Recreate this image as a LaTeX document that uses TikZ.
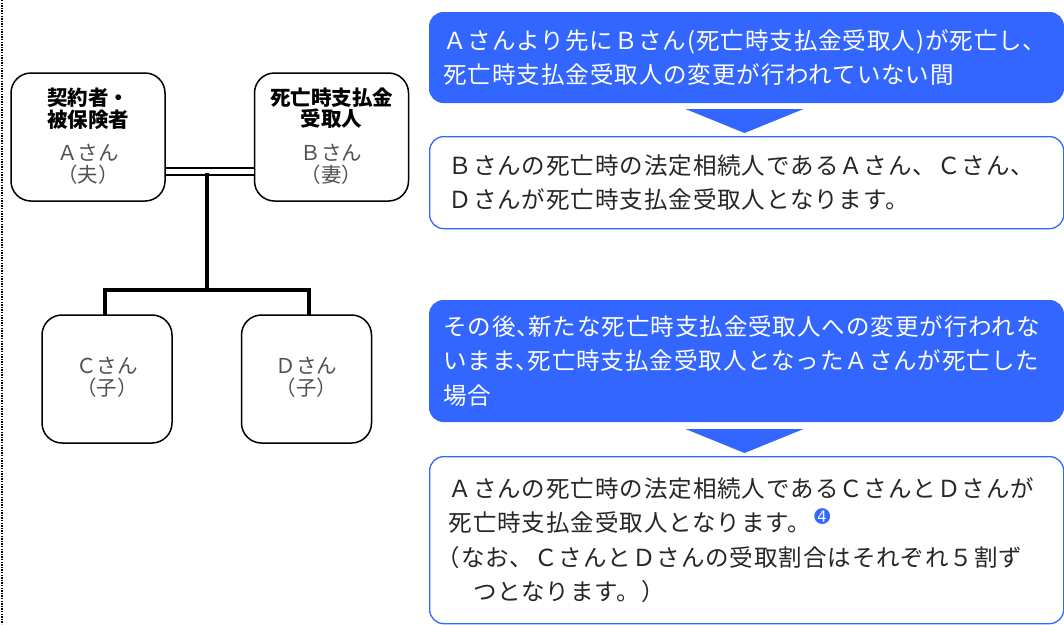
\documentclass[tikz,border=0pt]{standalone}
\usepackage{fontspec}
\usetikzlibrary{calc}
\setmainfont{Noto Sans CJK JP}
\newfontfamily\jpsp{Noto Sans CJK JP}[LetterSpace=4]
\newfontfamily\dingf{DejaVu Sans}
\definecolor{mblue}{RGB}{51,102,255}
\definecolor{tgray}{RGB}{38,38,38}
\definecolor{ngray}{RGB}{80,80,80}
\begin{document}
\begin{tikzpicture}[x=1pt,y=-1pt,
  person/.style={draw=black, line width=1.5pt, rounded corners=20pt, minimum width=154pt, minimum height=128pt, inner sep=0pt},
  kid/.style={person, minimum width=130pt},
  headtxt/.style={font=\fontsize{20.5}{21.5}\selectfont\bfseries, text=black, align=center, inner sep=0pt},
  nametxt/.style={font=\fontsize{20.5}{22}\selectfont, text=ngray, align=center, inner sep=0pt},
  bluebox/.style={fill=mblue, draw=mblue, line width=1pt, rounded corners=14pt, text=white, anchor=north west, align=left, text width=606pt, inner xsep=14pt, inner ysep=0pt, minimum width=634pt, font=\jpsp\fontsize{23.5}{34.5}\selectfont},
  whitebox/.style={fill=white, draw=mblue, line width=1.3pt, rounded corners=14pt, text=tgray, anchor=north west, align=left, text width=596pt, inner xsep=19pt, inner ysep=0pt, minimum width=634pt, font=\jpsp\fontsize{23.5}{34.5}\selectfont},
  link/.style={line width=4pt, line join=miter, line cap=rect},
  tri/.style={fill=mblue}
]
\useasboundingbox (0,0) rectangle (1064,624);
\draw[line width=1.3pt, dash pattern=on 1.3pt off 1.3pt] (2,0) -- (2,624);

% family boxes
\node[person] (A) at (88,137) {};
\node[person] (B) at (331.5,137) {};
\node[kid] (C) at (107,379) {};
\node[kid] (D) at (306.5,379) {};

\node[headtxt] (Ah) at (88,109) {契約者・\\被保険者};
\node[nametxt] (An) at (88,164) {Ａさん\\（夫）};
\node[headtxt] (Bh) at (331.5,108) {死亡時支払金\\受取人};
\node[nametxt] (Bn) at (331.5,164) {Ｂさん\\（妻）};
\node[nametxt] (Cn) at (107,377) {Ｃさん\\（子）};
\node[nametxt] (Dn) at (306.5,377) {Ｄさん\\（子）};

% connectors
\path (A.east) ++(0,34.5) coordinate (a1);
\draw[line width=2.2pt, double distance=4.5pt] (a1) -- (a1 -| B.west);
\coordinate (m) at (207,175);
\coordinate (j) at (207,290);
\draw[link] (m) -- (j);
\draw[link] (C.north) ++(-2,0) coordinate (c1) |- (j) -| ($(D.north)+(2,0)$) coordinate (d1);

% right side
\node[bluebox, minimum height=90pt] (s1) at (429,12)
  {Ａさんより先にＢさん(死亡時支払金受取人)が死亡し、\\死亡時支払金受取人の変更が行われていない間};
\node[whitebox, minimum height=92pt] (s2) at (429,136)
  {Ｂさんの死亡時の法定相続人であるＡさん、Ｃさん、\\Ｄさんが死亡時支払金受取人となります。};
\node[bluebox, minimum height=121pt] (s3) at (429,300)
  {その後、\kern-.5em新たな死亡時支払金受取人への変更が行われな\\いまま、\kern-.5em死亡時支払金受取人となったＡさんが死亡した\\場合};
\node[whitebox, minimum height=167pt] (s4) at (429,456)
  {Ａさんの死亡時の法定相続人であるＣさんとＤさんが\\死亡時支払金受取人となります。\kern3pt\smash{\raisebox{8.5pt}{\dingf\fontsize{19}{19}\selectfont\textcolor{mblue}{➍}}}\\\hspace*{-12pt}（なお、ＣさんとＤさんの受取割合はそれぞれ５割ず\\　つとなります。）};

\fill[tri] ($(s1.south)+(-61,6)$) -- ($(s1.south)+(57,6)$) -- ($(s1.south)+(-2,30)$) -- cycle;
\fill[tri] ($(s3.south)+(-61,7)$) -- ($(s3.south)+(57,7)$) -- ($(s3.south)+(-2,31)$) -- cycle;
\end{tikzpicture}
\end{document}
